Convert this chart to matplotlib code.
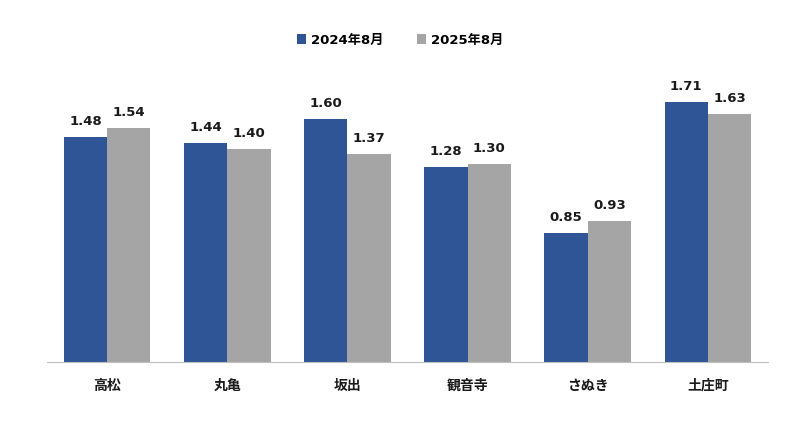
import matplotlib
matplotlib.use("Agg")
import matplotlib.pyplot as plt
import numpy as np

plt.rcParams['font.family'] = ['DejaVu Sans', 'Noto Sans CJK JP']

categories = ['高松', '丸亀', '坂出', '観音寺', 'さぬき', '土庄町']
series_names = ['2024年8月', '2025年8月']
v2024 = [1.48, 1.44, 1.60, 1.28, 0.85, 1.71]
v2025 = [1.54, 1.40, 1.37, 1.30, 0.93, 1.63]
colors = ['#2F5597', '#A5A5A5']

fig = plt.figure(figsize=(8, 4.43), dpi=100)
ax = fig.add_axes([47 / 800, 81 / 443, 721 / 800, 304 / 443])

x = np.arange(len(categories))
w = 0.36
b1 = ax.bar(x - w / 2, v2024, w, color=colors[0], label=series_names[0])
b2 = ax.bar(x + w / 2, v2025, w, color=colors[1], label=series_names[1])

for bars, vals in ((b1, v2024), (b2, v2025)):
    for r, v in zip(bars, vals):
        ax.text(r.get_x() + r.get_width() / 2, v + 0.06, f'{v:.2f}',
                ha='center', va='bottom', fontsize=9.5, fontweight='bold', color='#1a1a1a')

ax.set_xlim(-0.5, len(categories) - 0.5)
ax.set_ylim(0, 2.0)
ax.set_yticks([])
ax.set_xticks(x)
ax.set_xticklabels(categories, fontsize=10, fontweight='bold', color='#1a1a1a',
                   family=['Noto Sans CJK JP', 'DejaVu Sans'])
ax.tick_params(axis='x', length=0, pad=12)
for s in ('top', 'right', 'left'):
    ax.spines[s].set_visible(False)
ax.spines['bottom'].set_color('#BFBFBF')

fig.legend(handles=[b1, b2], loc='center', bbox_to_anchor=(0.5, 1 - 40 / 443), ncol=2,
           frameon=False, prop={'size': 9.5, 'weight': 'bold'}, handlelength=0.7,
           handleheight=0.7, columnspacing=2.5, handletextpad=0.4)

fig.savefig('out.png', dpi=100)
